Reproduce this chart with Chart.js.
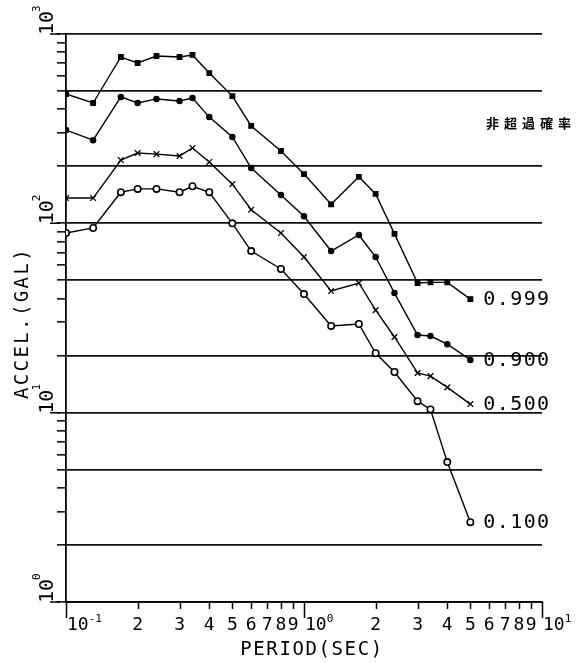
<!DOCTYPE html>
<html>
<head>
<meta charset="utf-8">
<script src="https://cdn.jsdelivr.net/npm/chart.js@4/dist/chart.umd.min.js"></script>
<style>
  html, body { margin: 0; padding: 0; background: #fff; }
  #wrap { position: relative; width: 586px; height: 663px; }
</style>
</head>
<body>
<div id="wrap"><canvas id="chart"></canvas></div>
<script>
// Periods (sec) shared by all four curves
const periods = [0.1, 0.13, 0.17, 0.2, 0.24, 0.3, 0.34, 0.4, 0.5, 0.6, 0.8,
                 1.0, 1.3, 1.7, 2.0, 2.4, 3.0, 3.4, 4.0, 5.0];

// Acceleration (gal) per non-exceedance probability
const accel999 = [482, 432, 756, 703, 765, 756, 775, 622, 470, 327, 241,
                  182, 126, 176, 143, 88, 48.4, 48.8, 48.8, 39.8];
const accel900 = [311, 275, 465, 432, 454, 443, 459, 364, 286, 196, 141,
                  109, 71.4, 86.8, 66.4, 42.8, 25.7, 25.4, 23.0, 19.0];
const accel500 = [136, 136, 216, 235, 232, 227, 250, 211, 161, 118, 88.9,
                  66.4, 43.9, 48.4, 34.8, 25.1, 16.2, 15.6, 13.6, 11.1];
const accel100 = [88.9, 94.5, 146, 152, 152, 146, 157, 146, 100, 71.4, 57.4,
                  42.3, 28.7, 29.4, 20.6, 16.4, 11.5, 10.4, 5.48, 2.64];

const seriesLabels = ['0.999', '0.900', '0.500', '0.100'];
const legendTitle = '非超過確率';
const xTitle = 'PERIOD(SEC)';
const yTitle = 'ACCEL.(GAL)';

// Tick labels
const xDecades = [0.1, 1, 10];
const xDecadeExp = ['-1', '0', '1'];
const yDecades = [1, 10, 100, 1000];
const yDecadeExp = ['0', '1', '2', '3'];
const minorDigits = ['2', '3', '4', '5', '6', '7', '8', '9'];

const MONO = '"DejaVu Sans Mono", monospace';

function logTicks(decades) {
    const out = [];
    decades.slice(0, -1).forEach(d => {
        for (let k = 1; k <= 9; k++) out.push(+(d * k).toPrecision(3));
    });
    out.push(decades[decades.length - 1]);
    return out;
}

function isMajor(v) {
    const m = Math.round(v / Math.pow(10, Math.floor(Math.log10(v) + 1e-9)));
    return m === 1 || m === 2 || m === 5;
}

function series(values) {
    return values.map((v, i) => ({ x: periods[i], y: v }));
}

/**
 * Draws x tick marks, tick labels, titles, long decade ticks and curve labels
 */
const decorations = {
    id: 'decorations',
    afterDraw(chart) {
        const { ctx, chartArea: area, scales: { x, y } } = chart;
        ctx.save();
        ctx.fillStyle = '#000';
        ctx.strokeStyle = '#000';

        // x tick marks, hanging below the axis
        ctx.lineWidth = 1.5;
        ctx.beginPath();
        x.ticks.forEach(t => {
            const px = Math.round(x.getPixelForValue(t.value)) + 0.5;
            const len = xDecades.includes(t.value) ? 16 : 7;
            ctx.moveTo(px, area.bottom);
            ctx.lineTo(px, area.bottom + len);
        });
        // longer marks at the y decades
        yDecades.forEach(v => {
            const py = y.getPixelForValue(v);
            ctx.moveTo(area.left - 16, py);
            ctx.lineTo(area.left - 6, py);
        });
        ctx.stroke();

        // x tick labels
        ctx.textBaseline = 'alphabetic';
        const base = area.bottom + 28;
        xDecades.forEach((d, i) => {
            const px = x.getPixelForValue(d);
            ctx.font = '18px ' + MONO;
            ctx.textAlign = 'left';
            ctx.fillText('10', px + 1, base);
            const w = ctx.measureText('10').width;
            ctx.font = '11px ' + MONO;
            ctx.fillText(xDecadeExp[i], px + 1 + w, base - 8);
            if (i < xDecades.length - 1) {
                ctx.font = '18px ' + MONO;
                ctx.textAlign = 'center';
                minorDigits.forEach((lab, k) => {
                    ctx.fillText(lab, x.getPixelForValue(d * (k + 2)), base);
                });
            }
        });

        // y decade labels, rotated
        yDecades.forEach((d, i) => {
            const py = y.getPixelForValue(d);
            ctx.save();
            ctx.translate(area.left - 13, py + 1);
            ctx.rotate(-Math.PI / 2);
            ctx.textAlign = 'left';
            ctx.font = '20px ' + MONO;
            ctx.fillText('10', 0, 0);
            const w = ctx.measureText('10').width;
            ctx.font = '11px ' + MONO;
            ctx.fillText(yDecadeExp[i], w - 1, -13);
            ctx.restore();
        });

        // axis titles
        ctx.font = '19px ' + MONO;
        ctx.textAlign = 'center';
        ctx.letterSpacing = '1.6px';
        ctx.fillText(xTitle, (area.left + area.right) / 2 + 8, area.bottom + 53);
        ctx.save();
        ctx.translate(28, (area.top + area.bottom) / 2 + 5);
        ctx.rotate(-Math.PI / 2);
        ctx.letterSpacing = '2.4px';
        ctx.fillText(yTitle, 0, 0);
        ctx.restore();

        // curve labels at the last point
        ctx.font = '20px ' + MONO;
        ctx.textAlign = 'left';
        ctx.textBaseline = 'middle';
        ctx.letterSpacing = '1.4px';
        seriesLabels.forEach((lab, i) => {
            const pts = chart.getDatasetMeta(i).data;
            const p = pts[pts.length - 1];
            ctx.fillText(lab, p.x + 13, p.y + 1);
        });

        // legend heading
        ctx.font = 'bold 13px "Noto Sans CJK JP", sans-serif';
        ctx.letterSpacing = '5px';
        ctx.fillText(legendTitle, area.right - 56, y.getPixelForValue(340));
        ctx.restore();
    }
};

const ink = '#000';
const common = {
    borderColor: ink,
    borderWidth: 1.4,
    pointBorderColor: ink,
    pointBorderWidth: 1.3,
    tension: 0,
    fill: false
};

new Chart(document.getElementById('chart'), {
    type: 'line',
    data: {
        datasets: [
            { ...common, data: series(accel999), pointStyle: 'rect', pointRadius: 3.2, pointBackgroundColor: ink },
            { ...common, data: series(accel900), pointStyle: 'circle', pointRadius: 2.6, pointBackgroundColor: ink },
            { ...common, data: series(accel500), pointStyle: 'crossRot', pointRadius: 4, pointBackgroundColor: ink },
            { ...common, data: series(accel100), pointStyle: 'circle', pointRadius: 3.2, pointBorderWidth: 1.6, pointBackgroundColor: '#fff' }
        ]
    },
    options: {
        responsive: true,
        maintainAspectRatio: false,
        animation: false,
        layout: { padding: { top: 34, right: 44, left: 0, bottom: 0 } },
        plugins: { legend: { display: false }, tooltip: { enabled: false } },
        scales: {
            x: {
                type: 'logarithmic',
                min: 0.1,
                max: 10,
                afterBuildTicks: s => { s.ticks = logTicks(xDecades).map(v => ({ value: v })); },
                afterFit: s => { s.height = 61; },
                ticks: { display: false },
                grid: { display: false },
                border: { display: true, color: ink, width: 1.8 }
            },
            y: {
                type: 'logarithmic',
                min: 1,
                max: 1000,
                afterBuildTicks: s => { s.ticks = logTicks(yDecades).map(v => ({ value: v })); },
                afterFit: s => { s.width = 66; },
                ticks: { display: false },
                grid: {
                    color: c => (c.tick && isMajor(c.tick.value)) ? '#111' : 'rgba(0,0,0,0)',
                    tickColor: ink,
                    lineWidth: 1.7,
                    tickWidth: 1.5,
                    tickLength: 9
                },
                border: { display: true, color: ink, width: 1.8 }
            }
        }
    },
    plugins: [decorations]
});
</script>
</body>
</html>
